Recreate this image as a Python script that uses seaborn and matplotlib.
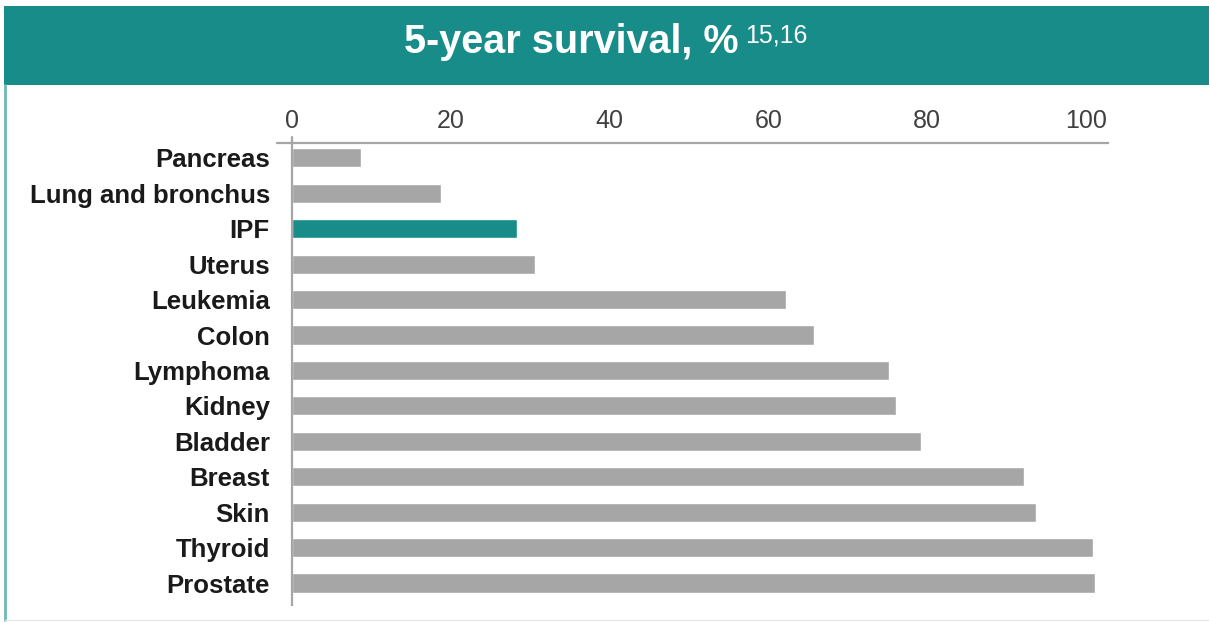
import matplotlib
matplotlib.use("Agg")
import matplotlib.pyplot as plt
from matplotlib.patches import Rectangle
from matplotlib.lines import Line2D
import seaborn as sns
import pandas as pd

# Five-year survival by cancer site (and IPF), percent
sites = ["Pancreas", "Lung and bronchus", "IPF", "Uterus", "Leukemia", "Colon",
         "Lymphoma", "Kidney", "Bladder", "Breast", "Skin", "Thyroid", "Prostate"]
survival = [8.7, 18.8, 28.3, 30.6, 62.2, 65.8, 75.2, 76.1, 79.2, 92.2, 93.7, 100.9, 101.2]
highlight = "IPF"
ticks = [0, 20, 40, 60, 80, 100]
title = "5-year survival, %"
refs = "15,16"

TEAL = "#178C88"
GREY = "#A6A6A6"
AXIS = "#A6A6A6"

sns.set_theme(style="white")
plt.rcParams["font.family"] = ["Liberation Sans", "DejaVu Sans"]

W, H = 1209, 622
fig = plt.figure(figsize=(W / 100, H / 100), dpi=100)
fig.patch.set_facecolor("white")

# Title banner and panel frame
fig.patches.append(Rectangle((4 / W, 1 - 85 / H), 1 - 4 / W, 79 / H,
                             transform=fig.transFigure, facecolor=TEAL,
                             edgecolor="none", zorder=0))
fig.lines.append(Line2D([5 / W, 5 / W], [1 - 85 / H, 1 - 620 / H],
                        transform=fig.transFigure, color="#6DB8B4", lw=2))
fig.lines.append(Line2D([5 / W, 1], [1 - 620 / H, 1 - 620 / H],
                        transform=fig.transFigure, color="#E6E6E6", lw=1))

df = pd.DataFrame({"site": sites, "survival": survival})
palette = {s: (TEAL if s == highlight else GREY) for s in sites}

ax = fig.add_axes([292 / W, 1 - 605 / H, (1108 - 292) / W, (605 - 143) / H])
sns.barplot(data=df, x="survival", y="site", hue="site", palette=palette,
            order=sites, hue_order=sites, legend=False, orient="h",
            width=0.54, saturation=1, ax=ax)

ax.set_xlim(0, 102.8)
ax.set_ylim(12.62, -0.42)
ax.set_xticks(ticks)
ax.set_xticklabels([str(t) for t in ticks])
ax.xaxis.tick_top()
ax.tick_params(axis="x", length=0, pad=7, labelsize=18, labelcolor="#404040")
ax.tick_params(axis="y", length=0, pad=16, labelsize=18.5, labelcolor="#1A1A1A")
for lab in ax.get_yticklabels():
    lab.set_fontweight("bold")
ax.set_xlabel("")
ax.set_ylabel("")
ax.set_facecolor("white")
for side in ["right", "bottom"]:
    ax.spines[side].set_visible(False)
for side in ["top", "left"]:
    ax.spines[side].set_color(AXIS)
    ax.spines[side].set_linewidth(1.6)

# Small overhang where the two axis lines cross
ax.add_line(Line2D([-15 / 816, 0], [1, 1], transform=ax.transAxes,
                   color=AXIS, lw=1.6, clip_on=False))
ax.add_line(Line2D([0, 0], [1, 1 + 6 / 462], transform=ax.transAxes,
                   color=AXIS, lw=1.6, clip_on=False))

# Banner title with superscript references
t = fig.text(404 / W, 1 - 53 / H, title, color="white", fontsize=28.5,
             fontweight="bold", ha="left", va="baseline")
renderer = fig.canvas.get_renderer()
bb = t.get_window_extent(renderer=renderer)
fig.text((bb.x1 + 7) / W, 1 - 43 / H, refs, color="white", fontsize=18,
         ha="left", va="baseline")

fig.savefig("out.png", dpi=100, facecolor="white")
